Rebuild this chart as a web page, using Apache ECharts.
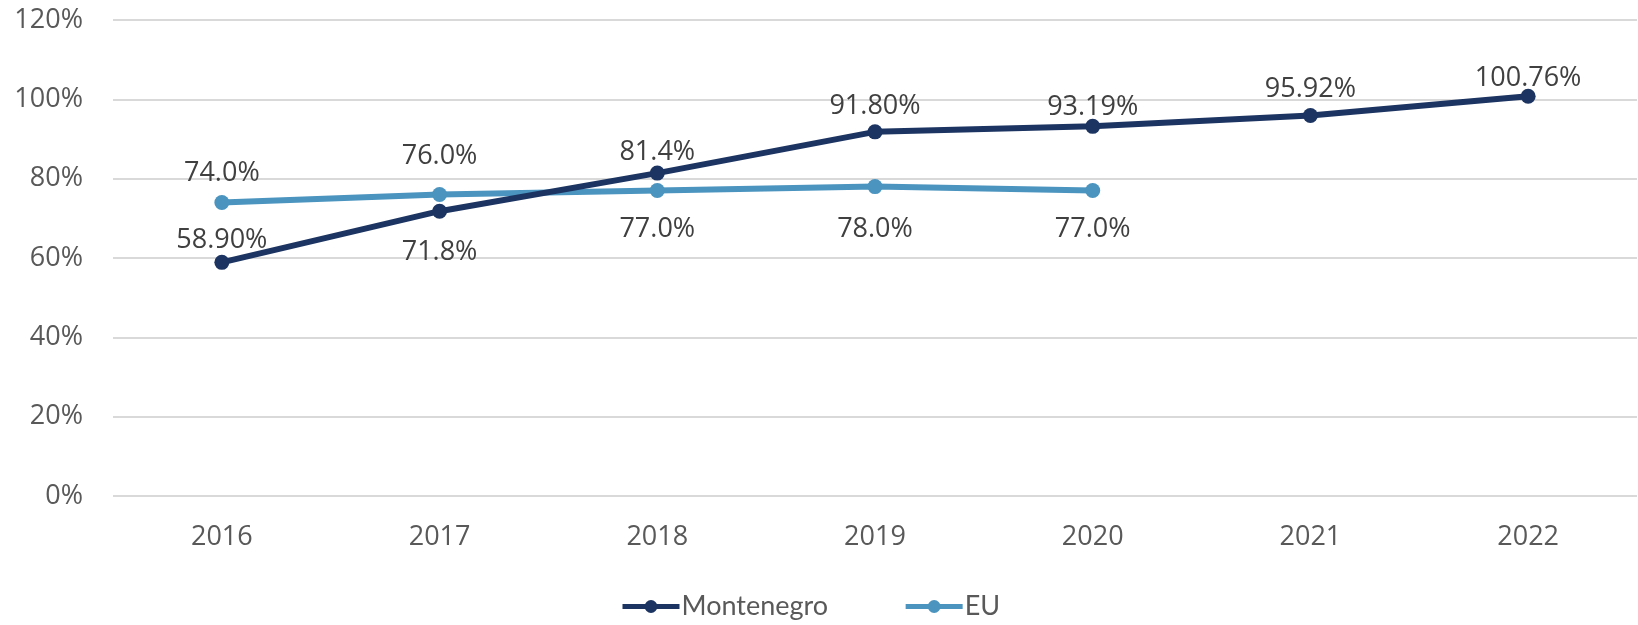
<!DOCTYPE html>
<html>
<head>
<meta charset="utf-8">
<style>
  html, body { margin: 0; padding: 0; background: #fff; }
  #main { width: 1638px; height: 625px; }
</style>
<script src="https://cdn.jsdelivr.net/npm/echarts@6/dist/echarts.min.js"></script>
</head>
<body>
<div id="main"></div>
<script>
// years on the x axis
var YEARS = ['2016', '2017', '2018', '2019', '2020', '2021', '2022'];
// Montenegro values (%)
var MNE_DATA = [58.90, 71.8, 81.4, 91.80, 93.19, 95.92, 100.76];
// Montenegro label text
var MNE_LABELS = ['58.90%', '71.8%', '81.4%', '91.80%', '93.19%', '95.92%', '100.76%'];
// EU values (%)
var EU_DATA = [74.0, 76.0, 77.0, 78.0, 77.0];
// EU label text
var EU_LABELS = ['74.0%', '76.0%', '77.0%', '78.0%', '77.0%'];

var chart = echarts.init(document.getElementById('main'));

// 标签位置（上/下）和距离，按原图手动摆放
var mneLabelPos = ['top', 'bottom', 'top', 'top', 'top', 'top', 'top'];
var mneLabelDist = [1, 20, 0, 5, -2, 5, -3];
var euLabelPos = ['top', 'top', 'bottom', 'bottom', 'bottom'];
var euLabelDist = [8, 17, 18, 22, 18];

function buildData(values, labels, pos, dist) {
  return values.map(function (v, i) {
    return {
      value: v,
      label: {
        formatter: labels[i],
        position: pos[i],
        distance: dist[i]
      }
    };
  });
}

var option = {
  backgroundColor: '#ffffff',
  animation: false,
  grid: {
    left: 113,
    right: 1,
    top: 20,
    bottom: 129
  },
  legend: {
    bottom: 0,
    left: 615,
    itemWidth: 57,
    itemHeight: 16,
    itemGap: 75,
    lineStyle: { width: 5 },
    textStyle: {
      fontFamily: 'Lato',
      fontSize: 27,
      color: '#595959',
      padding: [0, 0, 0, -3]
    },
    data: ['Montenegro', 'EU']
  },
  xAxis: {
    type: 'category',
    data: YEARS,
    axisLine: { show: false },
    axisTick: { show: false },
    axisLabel: {
      margin: 28,
      fontFamily: 'Open Sans',
      fontSize: 27,
      color: '#595959'
    }
  },
  yAxis: {
    type: 'value',
    min: 0,
    max: 120,
    interval: 20,
    axisLine: { show: false },
    axisTick: { show: false },
    axisLabel: {
      margin: 30,
      formatter: '{value}%',
      fontFamily: 'Open Sans',
      fontSize: 27,
      color: '#595959'
    },
    splitLine: {
      lineStyle: { color: '#d9d9d9', width: 2 }
    }
  },
  series: [{
    name: 'Montenegro',
    type: 'line',
    data: buildData(MNE_DATA, MNE_LABELS, mneLabelPos, mneLabelDist),
    symbol: 'circle',
    symbolSize: 15,
    color: '#1c3461',
    lineStyle: { width: 6, color: '#1c3461' },
    label: {
      show: true,
      fontFamily: 'Open Sans',
      fontSize: 27,
      color: '#404040'
    },
    z: 3
  }, {
    name: 'EU',
    type: 'line',
    data: buildData(EU_DATA, EU_LABELS, euLabelPos, euLabelDist),
    symbol: 'circle',
    symbolSize: 15,
    color: '#4a94bf',
    lineStyle: { width: 6, color: '#4a94bf' },
    label: {
      show: true,
      fontFamily: 'Open Sans',
      fontSize: 27,
      color: '#404040'
    },
    z: 2
  }]
};

chart.setOption(option);
</script>
</body>
</html>
